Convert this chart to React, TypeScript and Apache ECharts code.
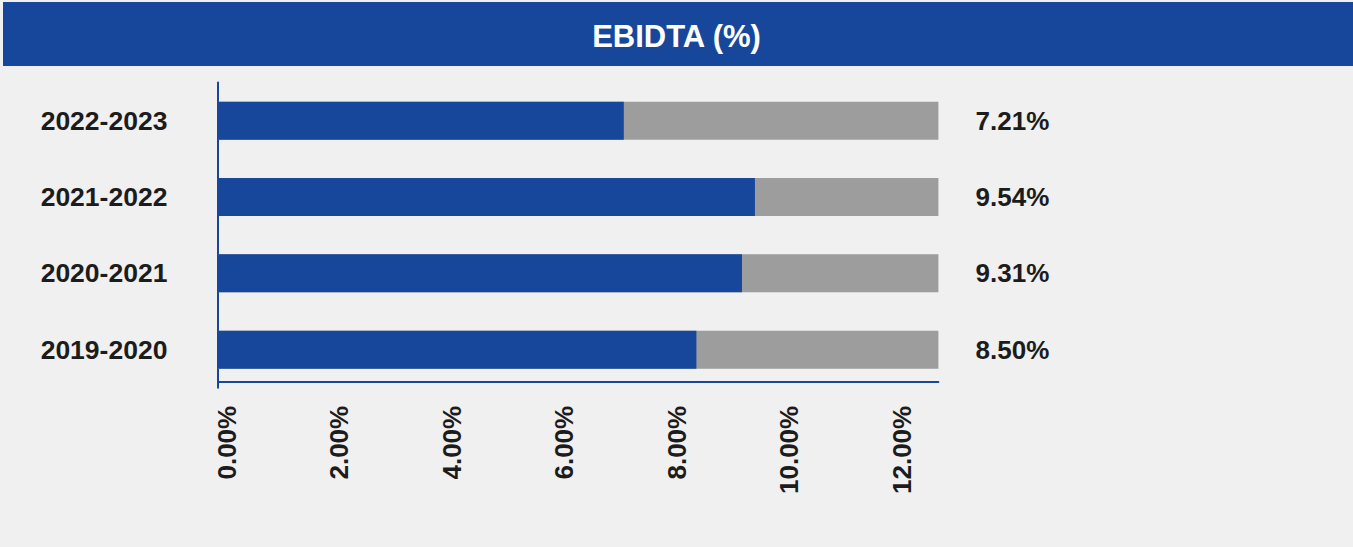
import React, { useEffect, useRef } from "react";
import * as echarts from "echarts";

const categories = ["2019-2020", "2020-2021", "2021-2022", "2022-2023"];
const ebitdaValues = [8.5, 9.31, 9.54, 7.21];
const trackMax = 12.8;
const trackValues = [trackMax, trackMax, trackMax, trackMax];
const xTicks = [0, 2, 4, 6, 8, 10, 12];
const titleText = "EBIDTA (%)";

const BLUE = "#17479b";
const GRAY = "#9c9d9c";
const TEXT = "#1c1c1c";
const FONT = "'Liberation Sans', Arial, sans-serif";

export default function App() {
  const ref = useRef<HTMLDivElement>(null);

  useEffect(() => {
    document.body.style.margin = "0";
    if (!ref.current) return;
    const chart = echarts.init(ref.current, undefined, { renderer: "svg" });
    chart.setOption({
      animation: false,
      backgroundColor: "#f0f0f0",
      textStyle: { fontFamily: FONT },
      graphic: [
        {
          type: "rect",
          shape: { x: 3, y: 2, width: 1350, height: 64 },
          style: { fill: BLUE },
          z: 0,
          silent: true,
        },
      ],
      title: {
        text: titleText,
        left: "center",
        top: 16,
        textStyle: { color: "#ffffff", fontSize: 31, fontWeight: "bold", fontFamily: FONT },
        z: 10,
      },
      grid: { left: 218, right: 414.6, top: 82.5, bottom: 159.2, containLabel: false },
      xAxis: {
        type: "value",
        min: 0,
        max: trackMax,
        interval: 2,
        offset: -6,
        splitLine: { show: false },
        axisTick: { show: false },
        axisLine: { show: true, lineStyle: { color: BLUE, width: 2 } },
        axisLabel: {
          rotate: 90,
          margin: 24,
          verticalAlign: "top",
          lineHeight: 17,
          color: TEXT,
          fontSize: 26,
          fontWeight: "bold",
          fontFamily: FONT,
          showMaxLabel: false,
          formatter: (v: number) => (xTicks.includes(v) ? v.toFixed(2) + "%" : ""),
        },
      },
      yAxis: [
        {
          type: "category",
          data: categories,
          position: "left",
          axisTick: { show: false },
          axisLine: { show: true, lineStyle: { color: BLUE, width: 2 } },
          axisLabel: {
            align: "center",
            margin: 114,
            color: TEXT,
            fontSize: 26.5,
            fontWeight: "bold",
            fontFamily: FONT,
          },
        },
        {
          type: "category",
          data: categories,
          position: "right",
          axisTick: { show: false },
          axisLine: { show: false },
          axisLabel: {
            align: "center",
            margin: 74,
            color: TEXT,
            fontSize: 26,
            fontWeight: "bold",
            fontFamily: FONT,
            formatter: (_v: string, i: number) => ebitdaValues[i].toFixed(2) + "%",
          },
        },
      ],
      series: [
        {
          name: "track",
          type: "bar",
          data: trackValues,
          barWidth: 38,
          barGap: "-100%",
          itemStyle: { color: GRAY },
          silent: true,
        },
        {
          name: "EBIDTA",
          type: "bar",
          data: ebitdaValues,
          barWidth: 38,
          itemStyle: { color: BLUE },
          z: 3,
        },
      ],
    });
    return () => chart.dispose();
  }, []);

  return <div ref={ref} style={{ width: 1353, height: 547 }} />;
}
